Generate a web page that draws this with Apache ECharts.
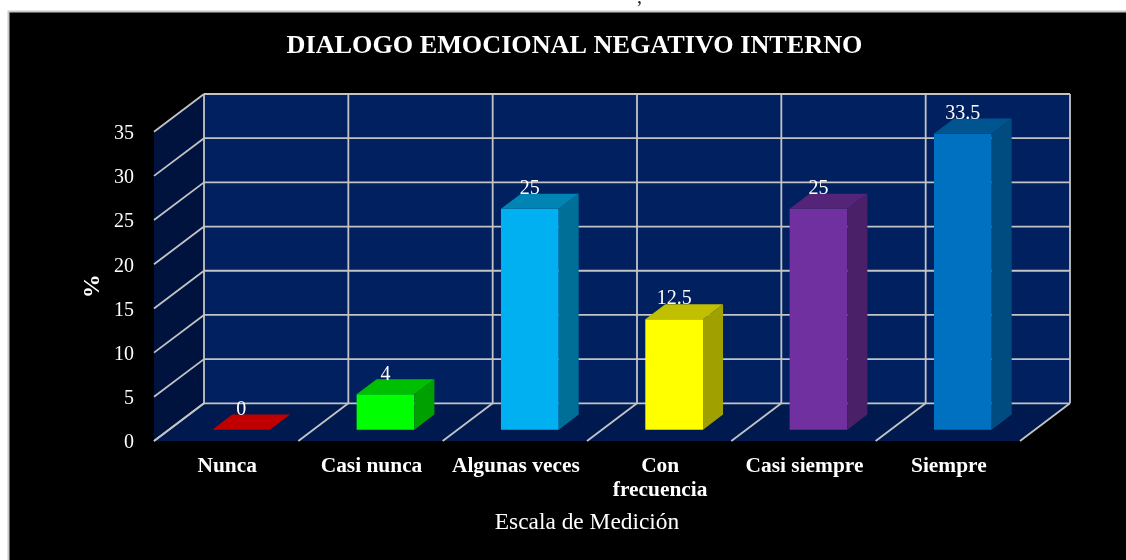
<!DOCTYPE html>
<html><head><meta charset="utf-8">
<style>html,body{margin:0;padding:0;background:#fff}#c{width:1126px;height:560px}</style>
<script src="https://cdn.jsdelivr.net/npm/echarts@6/dist/echarts.min.js"></script>
</head><body><div id="c"></div>
<script>
const titleText = 'DIALOGO EMOCIONAL NEGATIVO INTERNO';
const categories = ['Nunca','Casi nunca','Algunas veces','Con\nfrecuencia','Casi siempre','Siempre'];
const values = [0,4,25,12.5,25,33.5];
const yTicks = [0,5,10,15,20,25,30,35];
const xAxisName = 'Escala de Medición';
const yAxisName = '%';
const faceColors = ['#C00000','#00FF00','#00B0F0','#FFFF00','#7030A0','#0070C0'];
const topColors  = ['#C00000','#00BE00','#0084B4','#C0C000','#542478','#005490'];
const sideColors = ['#900000','#00A000','#006F98','#A0A000','#4A2069','#004B80'];

const FONT = '"Liberation Serif","Times New Roman",serif';
const DX = 50, DY = -37.7;          // wall depth in px
const BAR_W = 0.40;                 // bar width as share of a band
const F0 = 0.30, F1 = 0.70;         // bar front/back depth as share of the wall depth
const GRID = '#C4C4C4';

const off = (p, f) => [p[0] + DX * f, p[1] + DY * f];
const poly = (pts, fill, z) => ({type:'polygon', z2:z||0, shape:{points:pts}, style:{fill}});
const seg = (a, b) => ({type:'line', z2:2, shape:{x1:a[0],y1:a[1],x2:b[0],y2:b[1]}, style:{stroke:GRID, lineWidth:1.8, fill:null}});

function renderWalls(params, api) {
  const band = api.size([1,0])[0];
  const n = categories.length;
  const xAt = k => api.coord([0,0])[0] - band/2 + band*k;
  const y0 = api.coord([0,0])[1], yTop = api.coord([0,yTicks[yTicks.length-1]])[1];
  const A = [xAt(0),y0], B = [xAt(n),y0], C = [xAt(0),yTop];
  const kids = [
    poly([A,C,off(C,1),off(A,1)],'#00133F'),
    poly([A,B,off(B,1),off(A,1)],'#001A4F'),
    poly([off(A,1),off(B,1),off([xAt(n),yTop],1),off(C,1)],'#002060')
  ];
  yTicks.forEach(t => {
    const y = api.coord([0,t])[1];
    kids.push(seg([xAt(0),y],off([xAt(0),y],1)));
    kids.push(seg(off([xAt(0),y],1),off([xAt(n),y],1)));
  });
  for (let k=0;k<=n;k++){
    kids.push(seg([xAt(k),y0],off([xAt(k),y0],1)));
    kids.push(seg(off([xAt(k),y0],1),off([xAt(k),yTop],1)));
  }
  return {type:'group',children:kids};
}

function renderBar(params, api) {
  const i = api.value(0), v = api.value(1);
  const band = api.size([1,0])[0], w = band*BAR_W;
  const base = api.coord([i,0]), top = api.coord([i,v]);
  const bl = off([base[0]-w/2,base[1]],F0), br = off([base[0]+w/2,base[1]],F0);
  const tl = off([top[0]-w/2,top[1]],F0),  tr = off([top[0]+w/2,top[1]],F0);
  const d = F1-F0;
  const kids = [];
  if (v>0){
    kids.push(poly([bl,br,tr,tl],faceColors[i]));
    kids.push(poly([br,off(br,d),off(tr,d),tr],sideColors[i]));
  }
  kids.push(poly([tl,tr,off(tr,d),off(tl,d)],topColors[i]));
  kids.push({type:'text',z2:5,x:(tl[0]+tr[0])/2,y:tl[1]-20,
    style:{text:String(v),fill:'#fff',font:'20px '+FONT,align:'center',verticalAlign:'middle'}});
  return {type:'group',children:kids};
}

const chart = echarts.init(document.getElementById('c'));
chart.setOption({
  animation:false,
  backgroundColor:'#fff',
  graphic:[
    {type:'rect',z:-10,silent:true,shape:{x:8.5,y:11.5,width:1200,height:600},
      style:{fill:'#000',stroke:'#C8C8C8',lineWidth:2}},
    {type:'text',z:-10,silent:true,x:637,y:-12,
      style:{text:',',fill:'#222',font:'20px '+FONT}}
  ],
  title:{text:titleText,left:569.5,top:28,textAlign:'center',
    textStyle:{color:'#fff',fontFamily:FONT,fontWeight:'bold',fontSize:26.2}},
  grid:{left:154,right:106,top:131.7,bottom:119},
  xAxis:{type:'category',data:categories,
    axisLine:{show:false},axisTick:{show:false},splitLine:{show:false},
    axisLabel:{color:'#fff',fontFamily:FONT,fontWeight:'bold',fontSize:21.4,lineHeight:24.5,margin:13,interval:0,padding:[0,0,0,2]},
    name:xAxisName,nameLocation:'middle',nameGap:82,nameMoveOverlap:false,
    nameTextStyle:{color:'#fff',fontFamily:FONT,fontSize:23.4,verticalAlign:'middle'}},
  yAxis:{type:'value',min:0,max:35,interval:5,
    axisLine:{show:false},axisTick:{show:false},splitLine:{show:false},
    axisLabel:{color:'#fff',fontFamily:FONT,fontSize:20,margin:20,verticalAlign:'top',lineHeight:4},
    name:yAxisName,nameLocation:'middle',nameGap:61,nameRotate:90,nameMoveOverlap:false,
    nameTextStyle:{color:'#fff',fontFamily:FONT,fontWeight:'bold',fontSize:24,verticalAlign:'middle'}},
  series:[
    {type:'custom',z:1,silent:true,renderItem:renderWalls,data:[[0,0]],encode:{x:0,y:1}},
    {type:'custom',z:3,silent:true,renderItem:renderBar,
      data:values.map((v,i)=>[i,v]),encode:{x:0,y:1}}
  ]
});
</script></body></html>
